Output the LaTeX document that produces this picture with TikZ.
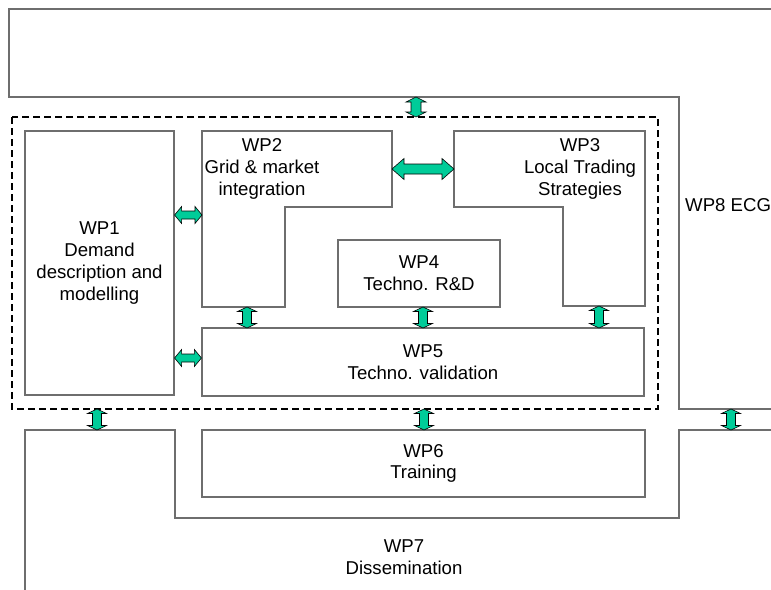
\documentclass[tikz,border=0pt]{standalone}
\usepackage{fontspec}
\setmainfont{Liberation Sans}
\usetikzlibrary{calc}
\definecolor{wpgreen}{RGB}{0,204,153}
\definecolor{wpline}{RGB}{110,110,110}

\begin{document}
\begin{tikzpicture}[x=1pt,y=-1pt,font=\fontsize{18.6}{21.8}\selectfont,
    dblarrow/.style n args={3}{draw=black,fill=wpgreen,line width=.6pt,line join=miter,
      to path={-- ($(\tikztostart)!#1!(\tikztotarget)!#2!90:(\tikztotarget)$)
               -- ($(\tikztostart)!#1!(\tikztotarget)!#3!90:(\tikztotarget)$)
               -- ($(\tikztotarget)!#1!(\tikztostart)!#3!-90:(\tikztostart)$)
               -- ($(\tikztotarget)!#1!(\tikztostart)!#2!-90:(\tikztostart)$)
               -- (\tikztotarget)
               -- ($(\tikztotarget)!#1!(\tikztostart)!#2!90:(\tikztostart)$)
               -- ($(\tikztotarget)!#1!(\tikztostart)!#3!90:(\tikztostart)$)
               -- ($(\tikztostart)!#1!(\tikztotarget)!#3!-90:(\tikztotarget)$)
               -- ($(\tikztostart)!#1!(\tikztotarget)!#2!-90:(\tikztotarget)$)
               -- cycle}}]
  \tikzstyle{frame}=[draw=wpline,line width=1.2pt]
  \tikzstyle{wpbox}=[frame,inner sep=0pt,align=center]
  \tikzstyle{wptext}=[inner sep=0pt,align=center]
  \tikzstyle{small}=[dblarrow={7pt}{8.5pt}{4pt}]
  \tikzstyle{upright}=[dblarrow={4.5pt}{9.5pt}{4.5pt}]

  \useasboundingbox (0,0) rectangle (771,589);

  % outer work packages
  \draw[frame] (776,9) -- (9,9) -- (9,97) -- (679,97) -- (679,409) -- (776,409);
  \node[wptext,anchor=west] (wp8) at (685,205) {WP8 ECG};
  \draw[frame] (776,430) -- (679,430) -- (679,518) -- (175,518) -- (175,430)
               -- (25,430) -- (25,596);
  \node[wptext] (wp7) at (404,557) {WP7\\Dissemination};

  \draw[black,line width=2.3pt,dash pattern=on 7pt off 4pt] (12,117) rectangle (658,409);

  % inner work packages
  \node[wpbox,minimum width=149,minimum height=264] (wp1) at (99.5,263)
       {WP1\\Demand\\description and\\modelling};
  \draw[frame] (202,131) -- (392,131) -- (392,207) -- (285,207) -- (285,307)
               -- (202,307) -- cycle;
  \node[wptext] (wp2) at (262,169) {WP2\\Grid \& market\\integration};
  \draw[frame] (454,131) -- (645,131) -- (645,306) -- (563,306) -- (563,207)
               -- (454,207) -- cycle;
  \node[wptext] (wp3) at (580,169) {WP3\\Local Trading\\Strategies};
  \node[wpbox,minimum width=162,minimum height=67] (wp4) at (419,273.5)
       {WP4\\Techno. R\&D};
  \node[wpbox,minimum width=442,minimum height=68] (wp5) at (423,362)
       {WP5\\Techno. validation};
  \node[wpbox,minimum width=443,minimum height=67] (wp6) at (423.5,463.5)
       {WP6\\Training};

  % arrow ends
  \coordinate (wp8s) at (416,97);   \coordinate (boxn) at (416,117);
  \coordinate (wp2e) at (392,169);  \coordinate (wp3w) at (454,169);
  \coordinate (wp1a) at (wp1.east |- 0,215); \coordinate (wp2w) at (202,215);
  \coordinate (wp1b) at (wp1.east |- 0,358); \coordinate (wp5w) at (wp5.west |- 0,358);
  \coordinate (wp2s) at (247,307);  \coordinate (wp5a) at (247,328);
  \coordinate (wp4s) at (423,307);  \coordinate (wp5b) at (423,328);
  \coordinate (wp3s) at (599,306);  \coordinate (wp5c) at (599,328);
  \coordinate (boxa) at (97,409);   \coordinate (wp7a) at (97,430);
  \coordinate (boxb) at (424,409);  \coordinate (wp6n) at (424,430);
  \coordinate (wp8b) at (731,409);  \coordinate (wp7b) at (731,430);

  \draw[dblarrow={5pt}{10pt}{5pt}] (wp8s) to (boxn);
  \draw[dblarrow={12pt}{10.5pt}{5pt}] (wp2e) to (wp3w);
  \draw[small] (wp1a) to (wp2w);
  \draw[small] (wp1b) to (wp5w);
  \draw[upright] (wp2s) to (wp5a);
  \draw[upright] (wp4s) to (wp5b);
  \draw[upright] (wp3s) to (wp5c);
  \draw[upright] (boxa) to (wp7a);
  \draw[upright] (boxb) to (wp6n);
  \draw[upright] (wp8b) to (wp7b);
\end{tikzpicture}
\end{document}
